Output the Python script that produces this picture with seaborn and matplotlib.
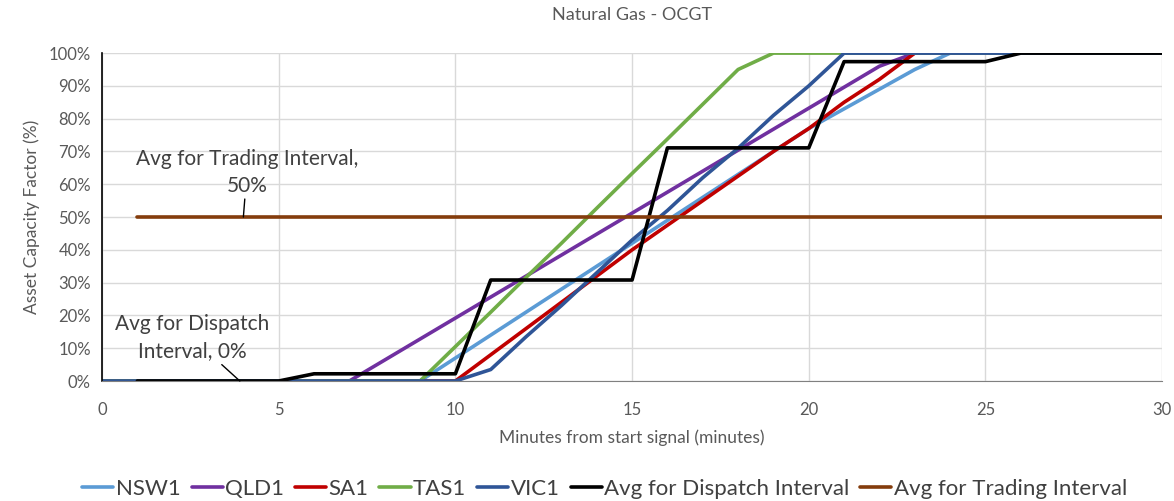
import numpy as np
import pandas as pd
import matplotlib
matplotlib.use('Agg')
import matplotlib.pyplot as plt
import seaborn as sns

minutes = list(range(0, 31))

nsw1 = [0] * 10 + [7, 14, 21, 28, 35, 42, 49, 56, 63, 70, 77, 83, 89, 95] + [100] * 7
qld1 = [0] * 8 + [6.4, 12.8, 19.2, 25.6, 32, 38.4, 44.8, 51.2, 57.6, 64, 70.4, 76.8,
                  83.2, 89.6, 96] + [100] * 8
sa1 = [0] * 11 + [8, 16, 24, 32, 40, 47.5, 55, 62.5, 70, 77, 85, 92] + [100] * 8
tas1 = [0] * 10 + [10.5, 21, 31.6, 42, 52.7, 63.3, 73.8, 84.4, 95] + [100] * 12
vic1 = [0] * 11 + [3.5, 13.5, 23, 33, 43, 52, 62, 71, 81, 90] + [100] * 10
avg_dispatch = [np.nan] + [0] * 5 + [2.2] * 5 + [30.8] * 5 + [71.1] * 5 + [97.4] * 5 + [100] * 5
avg_trading = [np.nan] + [50] * 30

series_names = ['NSW1', 'QLD1', 'SA1', 'TAS1', 'VIC1',
                'Avg for Dispatch Interval', 'Avg for Trading Interval']
series_values = [nsw1, qld1, sa1, tas1, vic1, avg_dispatch, avg_trading]
colors = ['#5B9BD5', '#7030A0', '#C00000', '#70AD47', '#2F5597', '#000000', '#843C0C']

frames = []
for name, vals in zip(series_names, series_values):
    frames.append(pd.DataFrame({'minute': minutes, 'value': np.array(vals, dtype=float) / 100,
                                'series': name}))
df = pd.concat(frames, ignore_index=True).dropna()

sns.set_style('white')
plt.rcParams['font.family'] = ['Lato', 'DejaVu Sans']

fig = plt.figure(figsize=(11.74, 5.01), dpi=100)
ax = fig.add_axes([0.0869, 0.2395, 0.903, 0.6545])

sns.lineplot(data=df, x='minute', y='value', hue='series', hue_order=series_names,
             palette=colors, linewidth=2.6, ax=ax, legend=False, sort=False)

ax.set_xlim(0, 30)
ax.set_ylim(0, 1)
ax.set_xticks(range(0, 31, 5))
ax.set_yticks(np.arange(0, 1.01, 0.1))
ax.set_yticklabels([f'{int(round(v * 100))}%' for v in np.arange(0, 1.01, 0.1)])
ax.grid(True, color='#D9D9D9', linewidth=1)
ax.set_axisbelow(True)
for s in ['top', 'right']:
    ax.spines[s].set_visible(False)
ax.spines['left'].set_color('#000000')
ax.spines['left'].set_linewidth(1.2)
ax.spines['bottom'].set_color('#808080')
ax.tick_params(axis='y', length=0, labelsize=12, labelcolor='#595959', pad=8)
ax.tick_params(axis='x', length=0, labelsize=12, labelcolor='#595959', pad=15)

ax.set_xlabel('Minutes from start signal (minutes)', fontsize=12.5, color='#595959', labelpad=8)
ax.set_ylabel('Asset Capacity Factor (%)', fontsize=12.5, color='#595959', labelpad=6)
ax.set_title('Natural Gas - OCGT', fontsize=13, color='#595959', pad=24)

ax.annotate('Avg for Trading Interval,\n50%', xy=(4, 0.5), xytext=(4.1, 0.565),
            ha='center', va='bottom', fontsize=15, color='#404040', linespacing=1.45,
            arrowprops=dict(arrowstyle='-', color='#000000', lw=1, shrinkA=0, shrinkB=0))
ax.annotate('Avg for Dispatch\nInterval, 0%', xy=(3.9, 0.0), xytext=(2.55, 0.06),
            ha='center', va='bottom', fontsize=15, color='#404040', linespacing=1.45,
            arrowprops=dict(arrowstyle='-', color='#000000', lw=1, shrinkA=0, shrinkB=0))

handles = [plt.Line2D([], [], color=c, linewidth=2.6) for c in colors]
fig.legend(handles, series_names, loc='lower center', bbox_to_anchor=(0.515, -0.035),
           ncol=7, frameon=False, fontsize=16, handlelength=1.4, handletextpad=0.1,
           columnspacing=0.5, labelcolor='#404040')

fig.savefig('out.png', dpi=100)
